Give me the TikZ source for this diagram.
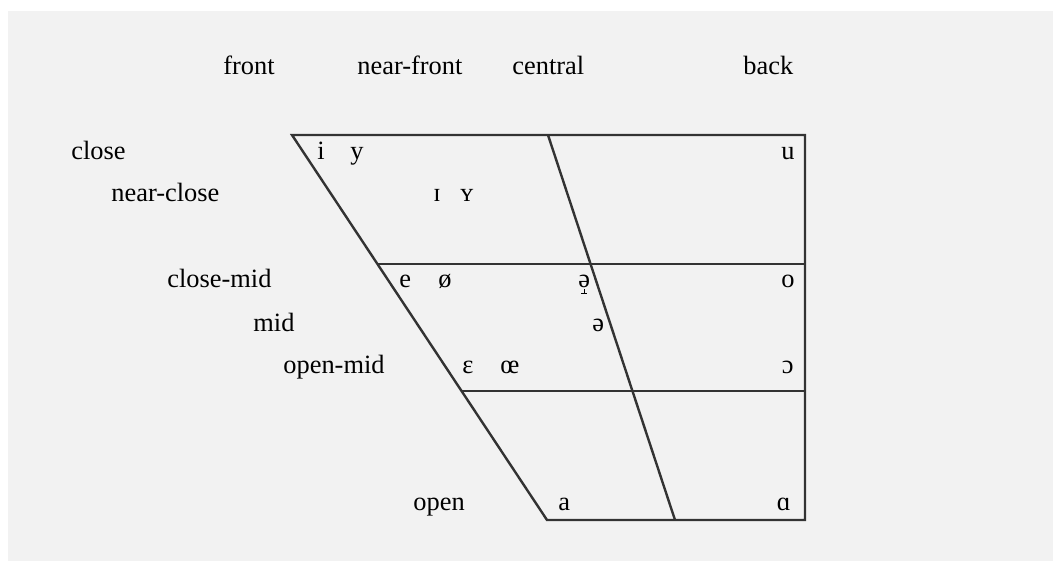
\documentclass[tikz,border=0pt]{standalone}
\usepackage{fontspec}
\setmainfont{Liberation Serif}
\usetikzlibrary{positioning}
\definecolor{chartbg}{HTML}{F2F2F2}
\definecolor{chartline}{HTML}{333333}
\tikzset{lbl/.style = {anchor=base west, inner sep=0pt, font=\fontsize{13.2}{15}\selectfont},
  vow/.style = {lbl},
  vowr/.style = {lbl, anchor=base east},
  grid/.style = {draw=chartline, line width=1.2pt, line join=miter}}
% schwa with a raising tack set under its middle
\newcommand\raisedschwa{\ooalign{ə\cr
  \hidewidth\raisebox{-3.4pt}{\rule{0.45pt}{2.4pt}}\hidewidth\cr
  \hidewidth\raisebox{-3.4pt}{\rule{2.8pt}{0.45pt}}\hidewidth\cr}}

\begin{document}
\begin{tikzpicture}[x=0.5pt, y=-0.5pt]
        \useasboundingbox (0,0) rectangle (1053,561);
        \fill[chartbg] (8,11) rectangle (1053,561);
        % corners of the chart
        \coordinate (tl) at (292,135);
        \coordinate (tr) at (805,135);
        \coordinate (br) at (805,520);
        \coordinate (bl) at (547,520);
        \coordinate (ctop) at (548,135);
        \coordinate (cbot) at (675,520);
        \coordinate (cmidl) at (377.5,264);
        \coordinate (cmidr) at (805,264);
        \coordinate (omidl) at (461.5,391);
        \coordinate (omidr) at (805,391);
        \draw[grid] (tl) -- (tr) -- (br) -- (bl) -- cycle;
        \draw[grid] (ctop) -- (cbot);
        \draw[grid] (cmidl) -- (cmidr);
        \draw[grid] (omidl) -- (omidr);
        % column heads
        \node[lbl] (front) at (223,75) {front};
        \node[lbl] (nearfront) at (357,75) {near-front};
        \node[lbl] (central) at (512,75) {central};
        \node[lbl] (back) at (743,75) {back};
        % row heads
        \node[lbl] (close) at (71,160) {close};
        \node[lbl] (nearclose) at (111,202) {near-close};
        \node[lbl] (closemid) at (167,287) {close-mid};
        \node[lbl] (mid) at (253,331) {mid};
        \node[lbl] (openmid) at (283,373) {open-mid};
        \node[lbl] (open) at (413,510) {open};
        % vowels
        \node[vow] (vi) at (317,160) {i};
        \node[vow] (vy) at (350,160) {y};
        \node[vow] (vsi) at (433,202) {ɪ};
        \node[vow] (vsy) at (460,202) {ʏ};
        \node[vow] (ve) at (399,287) {e};
        \node[vow] (voe) at (438,287) {ø};
        \node[vow] (vre) at (578,287) {\raisedschwa};
        \node[vow] (vschwa) at (592,331) {ə};
        \node[vow] (veps) at (462,373) {ɛ};
        \node[vow] (voel) at (500,373) {œ};
        \node[vow] (va) at (558,510) {a};
        \node[vowr] (vu) at (795,160) {u};
        \node[vowr] (vo) at (795,287) {o};
        \node[vowr] (vopo) at (794,373) {ɔ};
        \node[vowr] (valpha) at (791,510) {ɑ};
\end{tikzpicture}
\end{document}
